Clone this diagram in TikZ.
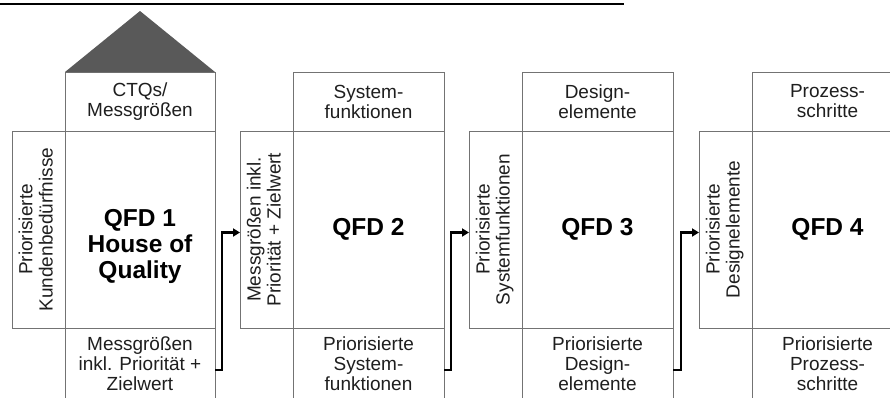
\documentclass[tikz,border=0pt]{standalone}
\usepackage{fontspec}
\setmainfont{Liberation Sans}
\usepackage{tikz}
\usetikzlibrary{arrows.meta,calc}
\definecolor{linegray}{RGB}{115,115,115}
\definecolor{roofgray}{RGB}{89,89,89}
\definecolor{textgray}{RGB}{30,30,30}
\newcommand{\sidetext}[1]{\rotatebox{90}{\begin{tabular}{@{}c@{}}#1\end{tabular}}}
\tikzset{
         box/.style={rectangle,draw=linegray,line width=.8pt,inner sep=0pt,outer sep=0pt,
                     anchor=north west,align=center,text=textgray,font=\fontsize{19}{20}\selectfont},
         qfd/.style={align=center,text=black,font=\bfseries\fontsize{24.5}{26}\selectfont},
         flow/.style={line width=2.2pt,-{Triangle[length=7pt,width=8pt]}}
        }
\begin{document}
\begin{tikzpicture}[x=1pt,y=-1pt]
\useasboundingbox (0,0) rectangle (890,397);
\clip (0,0) rectangle (890,397);
%rule
\draw[line width=1.5pt](0,4)--(624,4);
%house 1
\node[box,minimum width=150pt,minimum height=59pt](top1)at(65,72){CTQs/\\Messgrößen};
\node[box,minimum width=53pt,minimum height=197pt](lft1)at(12,131){\sidetext{Priorisierte\\Kundenbedürfnisse}};
\node[box,minimum width=150pt,minimum height=197pt](main1)at(65,131){};
\node[box,minimum width=150pt,minimum height=72pt](bot1)at(65,328){Messgrößen\\inkl. Priorität +\\Zielwert};
\node[qfd](qfd1)at([yshift=-17pt]main1.center){QFD 1\\House of\\Quality};
\fill[roofgray](top1.north west)--([yshift=61pt]top1.north)--(top1.north east)--cycle;
%house 2
\node[box,minimum width=151pt,minimum height=59pt](top2)at(293,72){System-\\funktionen};
\node[box,minimum width=53pt,minimum height=197pt](lft2)at(240,131){\sidetext{Messgrößen inkl.\\Priorität + Zielwert}};
\node[box,qfd,minimum width=151pt,minimum height=197pt](main2)at(293,131){QFD 2};
\node[box,minimum width=151pt,minimum height=72pt](bot2)at(293,328){Priorisierte\\System-\\funktionen};
%house 3
\node[box,minimum width=151pt,minimum height=59pt](top3)at(522,72){Design-\\elemente};
\node[box,minimum width=53pt,minimum height=197pt](lft3)at(469,131){\sidetext{Priorisierte\\Systemfunktionen}};
\node[box,qfd,minimum width=151pt,minimum height=197pt](main3)at(522,131){QFD 3};
\node[box,minimum width=151pt,minimum height=72pt](bot3)at(522,328){Priorisierte\\Design-\\elemente};
%house 4
\node[box,minimum width=151pt,minimum height=59pt](top4)at(752,72){Prozess-\\schritte};
\node[box,minimum width=53pt,minimum height=197pt](lft4)at(699,131){\sidetext{Priorisierte\\Designelemente}};
\node[box,qfd,minimum width=151pt,minimum height=197pt](main4)at(752,131){QFD 4};
\node[box,minimum width=151pt,minimum height=72pt](bot4)at(752,328){Priorisierte\\Prozess-\\schritte};
%arrows
\draw[flow]([yshift=-6pt]bot1.east)--++(7,0)|-([yshift=-3pt]lft2.west);
\draw[flow]([yshift=-6pt]bot2.east)--++(7,0)|-([yshift=-3pt]lft3.west);
\draw[flow]([yshift=-6pt]bot3.east)--++(8,0)|-([yshift=-3pt]lft4.west);
\end{tikzpicture}
\end{document}
